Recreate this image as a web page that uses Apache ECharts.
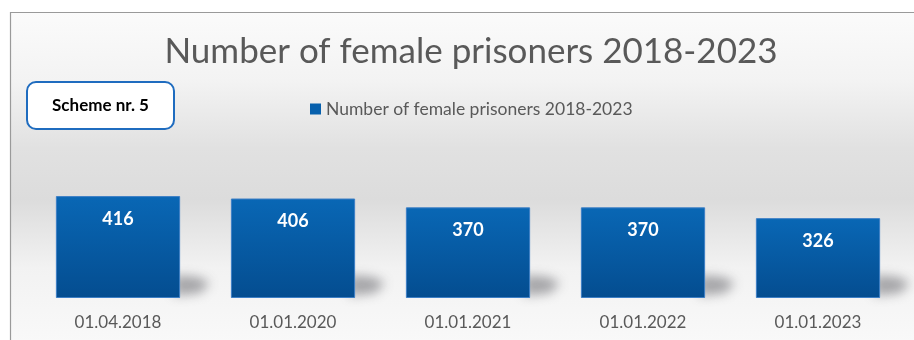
<!DOCTYPE html>
<html>
<head>
<meta charset="utf-8">
<script src="https://cdn.jsdelivr.net/npm/echarts@6/dist/echarts.min.js"></script>
<style>
  html, body { margin: 0; padding: 0; background: #ffffff; }
  #chart { width: 914px; height: 340px; }
</style>
</head>
<body>
<div id="chart"></div>
<script>
// Dates of the counts and the number of female prisoners on each date
const categories = ['01.04.2018', '01.01.2020', '01.01.2021', '01.01.2022', '01.01.2023'];
const femalePrisoners = [416, 406, 370, 370, 326];
const seriesName = 'Number of female prisoners 2018-2023';
const titleText = 'Number of female prisoners 2018-2023';
const schemeLabel = 'Scheme nr. 5';

const FONT = 'Lato, "Open Sans", sans-serif';
const chart = echarts.init(document.getElementById('chart'), null, { renderer: 'canvas' });

// Soft cast shadow at the foot of each bar. The shape itself is pushed far
// off to the left and only its blurred shadow is shifted back into place.
const SHIFT = 3000;
function renderFootShadow(params, api) {
  const base = api.coord([api.value(0), 0]);
  const band = api.size([1, 0])[0];
  const right = base[0] + band * 0.71 / 2;
  const y = base[1];
  const pts = [
    [right - 6, y - 23],
    [right + 18, y - 21],
    [right + 30, y - 15],
    [right + 20, y - 5],
    [right - 6, y - 2]
  ].map(p => [p[0] - SHIFT, p[1]]);
  return {
    type: 'polygon',
    shape: { points: pts },
    style: {
      fill: 'rgba(95,95,100,1)',
      shadowBlur: 11,
      shadowOffsetX: SHIFT,
      shadowColor: 'rgba(100,100,106,0.55)'
    }
  };
}

const option = {
  animation: false,
  textStyle: { fontFamily: FONT },
  title: {
    text: titleText,
    left: 466,
    textAlign: 'center',
    top: 29,
    textStyle: { fontFamily: FONT, fontSize: 35, fontWeight: 'normal', color: '#595959' }
  },
  legend: {
    data: [seriesName],
    left: 310,
    top: 100,
    padding: 0,
    icon: 'rect',
    itemWidth: 11,
    itemHeight: 11,
    itemStyle: { borderWidth: 0, color: '#0760ad' },
    textStyle: { fontFamily: FONT, fontSize: 17.5, color: '#595959' }
  },
  graphic: [
    {
      type: 'rect',
      z: -10,
      silent: true,
      shape: { x: 10.5, y: 12.5, width: 920, height: 340 },
      style: {
        fill: new echarts.graphic.LinearGradient(0, 0, 0, 1, [
          { offset: 0, color: '#fbfbfb' },
          { offset: 0.2, color: '#f3f3f3' },
          { offset: 0.4, color: '#e1e1e1' },
          { offset: 0.55, color: '#dcdcdc' },
          { offset: 0.75, color: '#f2f2f2' },
          { offset: 1, color: '#fafafa' }
        ]),
        stroke: '#9a9a9a',
        lineWidth: 1.2
      }
    },
    {
      type: 'group',
      left: 26,
      top: 81,
      children: [
        {
          type: 'rect',
          shape: { x: 0, y: 0, width: 147, height: 47, r: 9 },
          style: { fill: '#ffffff', stroke: '#1f6cbf', lineWidth: 2 }
        },
        {
          type: 'text',
          x: 73.5,
          y: 24,
          style: {
            text: schemeLabel,
            fontFamily: FONT,
            fontSize: 17,
            fontWeight: 'bold',
            fill: '#000000',
            align: 'center',
            verticalAlign: 'middle'
          }
        }
      ]
    }
  ],
  grid: { left: 30.5, right: 8.5, top: 151, bottom: 42 },
  xAxis: {
    type: 'category',
    data: categories,
    axisLine: { show: false },
    axisTick: { show: false },
    axisLabel: { fontFamily: FONT, fontSize: 17, color: '#595959', margin: 16 }
  },
  yAxis: {
    type: 'value',
    min: 0,
    max: 600,
    show: false,
    splitLine: { show: false }
  },
  series: [
    {
      type: 'custom',
      name: 'shadow',
      silent: true,
      z: 1,
      renderItem: renderFootShadow,
      data: femalePrisoners.map((v, i) => [i, v]),
      encode: { x: 0, y: 1 }
    },
    {
      type: 'bar',
      name: seriesName,
      data: femalePrisoners,
      z: 3,
      barCategoryGap: '29%',
      itemStyle: {
        color: new echarts.graphic.LinearGradient(0, 0, 0, 1, [
          { offset: 0, color: '#0967b5' },
          { offset: 1, color: '#044d90' }
        ]),
        borderColor: '#3d7fc6',
        borderWidth: 1
      },
      label: {
        show: true,
        position: 'insideTop',
        distance: 14,
        fontFamily: FONT,
        fontSize: 18,
        fontWeight: 'bold',
        color: '#ffffff'
      }
    }
  ]
};

chart.setOption(option);
</script>
</body>
</html>
